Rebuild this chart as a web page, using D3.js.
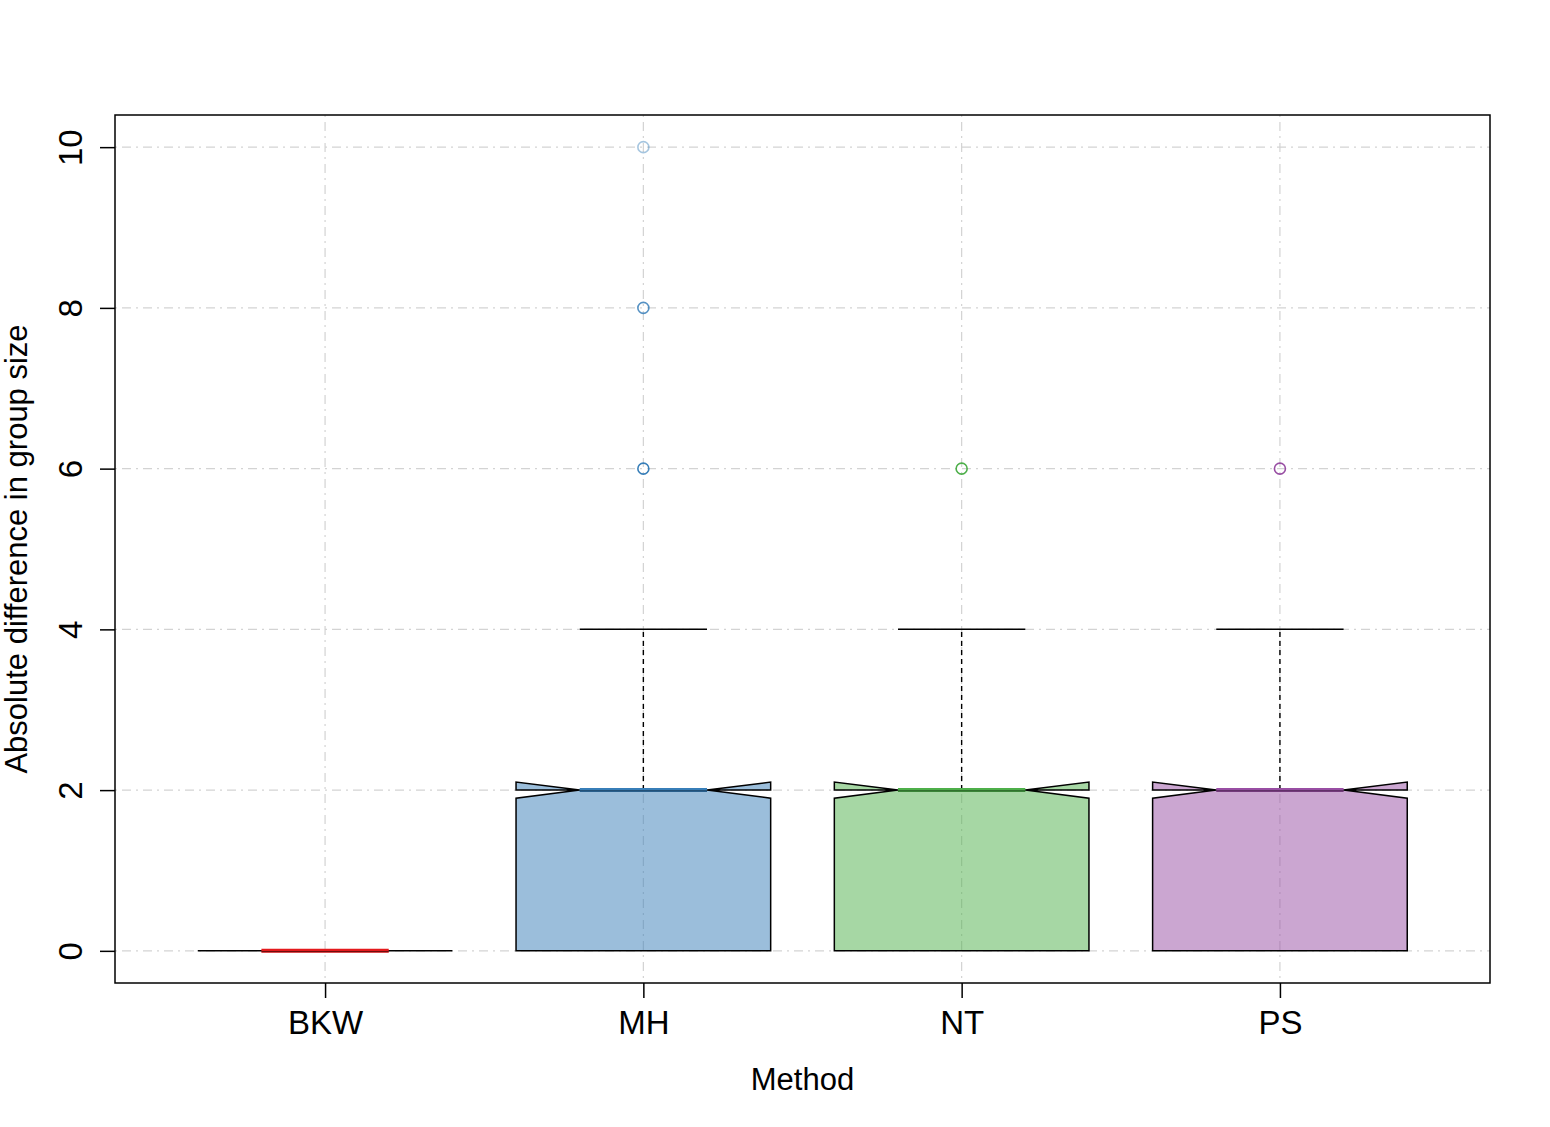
<!DOCTYPE html>
<html>
<head>
<meta charset="utf-8">
<script src="https://cdn.jsdelivr.net/npm/d3@7"></script>
<style>
  body { margin: 0; background: #fff; }
  svg text { font-family: "Liberation Sans", Arial, sans-serif; fill: #000; }
</style>
</head>
<body>
<svg id="chart" width="1550" height="1127"></svg>
<script>
// boxplot stats per method
const methods = ['BKW', 'MH', 'NT', 'PS'];
const lowerWhisker = [0, 0, 0, 0];
const q1 = [0, 0, 0, 0];
const median = [0, 2, 2, 2];
const q3 = [0, 2, 2, 2];
const upperWhisker = [0, 4, 4, 4];
const notchLo = [0, 1.9, 1.9, 1.9];
const notchHi = [0, 2.1, 2.1, 2.1];
const colors = ['#e41a1c', '#377eb8', '#4daf4a', '#984ea3'];

// outliers: method, value, opacity (overlapping points look darker)
const outlierMethod = ['MH', 'MH', 'MH', 'NT', 'PS'];
const outlierValue = [10, 8, 6, 6, 6];
const outlierOpacity = [0.45, 0.85, 1, 1, 1];

const yTicks = [0, 2, 4, 6, 8, 10];

const margin = { left: 115, right: 60, top: 115, bottom: 144 };
const W = 1550, H = 1127;

const svg = d3.select('#chart');

const x = d3.scaleLinear()
  .domain([0.34, 4.66])
  .range([margin.left, W - margin.right]);
const y = d3.scaleLinear()
  .domain([-0.4, 10.4])
  .range([H - margin.bottom, margin.top]);

const pos = m => x(methods.indexOf(m) + 1);
const halfBox = x(1.4) - x(1);
const halfNotch = x(1.2) - x(1);
const halfCap = x(1.2) - x(1);

const boxes = methods.map((m, i) => ({
  m, i, lw: lowerWhisker[i], q1: q1[i], med: median[i], q3: q3[i],
  uw: upperWhisker[i], nlo: notchLo[i], nhi: notchHi[i]
}));

// grid first, boxes are semi-transparent on top of it
const grid = svg.append('g')
  .attr('stroke', '#d3d3d3')
  .attr('stroke-width', 1.2)
  .attr('stroke-dasharray', '2,5,9,5');
yTicks.forEach(t => {
  grid.append('line')
    .attr('x1', margin.left).attr('x2', W - margin.right)
    .attr('y1', y(t)).attr('y2', y(t));
});
methods.forEach(m => {
  grid.append('line')
    .attr('x1', pos(m)).attr('x2', pos(m))
    .attr('y1', margin.top).attr('y2', H - margin.bottom);
});

// boxes (notched polygons)
const bx = svg.append('g');
boxes.forEach(b => {
  const cx = pos(b.m);
  if (b.q3 > b.q1) {
    const pts = [
      [cx - halfBox, y(b.q1)], [cx - halfBox, y(b.nlo)], [cx - halfNotch, y(b.med)],
      [cx - halfBox, y(b.nhi)], [cx - halfBox, y(b.q3)], [cx + halfBox, y(b.q3)],
      [cx + halfBox, y(b.nhi)], [cx + halfNotch, y(b.med)], [cx + halfBox, y(b.nlo)],
      [cx + halfBox, y(b.q1)]
    ];
    bx.append('polygon')
      .attr('points', pts.map(p => p.join(',')).join(' '))
      .attr('fill', colors[b.i])
      .attr('fill-opacity', 0.5)
      .attr('stroke', '#000')
      .attr('stroke-width', 1.5)
      .attr('stroke-linejoin', 'miter');
  } else {
    bx.append('line')
      .attr('x1', cx - halfBox).attr('x2', cx + halfBox)
      .attr('y1', y(b.q1)).attr('y2', y(b.q1))
      .attr('stroke', '#000').attr('stroke-width', 1.5);
  }
});

// whiskers, caps, medians
const fg = svg.append('g');
boxes.forEach(b => {
  const cx = pos(b.m);
  if (b.uw > b.q3) {
    fg.append('line')
      .attr('x1', cx).attr('x2', cx)
      .attr('y1', y(b.q3)).attr('y2', y(b.uw))
      .attr('stroke', '#000').attr('stroke-width', 1.4)
      .attr('stroke-dasharray', '5,4');
    fg.append('line')
      .attr('x1', cx - halfCap).attr('x2', cx + halfCap)
      .attr('y1', y(b.uw)).attr('y2', y(b.uw))
      .attr('stroke', '#000').attr('stroke-width', 1.5);
  }
  fg.append('line')
    .attr('x1', cx - halfNotch).attr('x2', cx + halfNotch)
    .attr('y1', y(b.med)).attr('y2', y(b.med))
    .attr('stroke', colors[b.i]).attr('stroke-width', 4);
  fg.append('line')
    .attr('x1', cx - halfNotch).attr('x2', cx + halfNotch)
    .attr('y1', y(b.med) + 0.8).attr('y2', y(b.med) + 0.8)
    .attr('stroke', '#000').attr('stroke-opacity', 0.6).attr('stroke-width', 1);
});

// outliers
outlierValue.forEach((v, k) => {
  const i = methods.indexOf(outlierMethod[k]);
  svg.append('circle')
    .attr('cx', pos(outlierMethod[k]))
    .attr('cy', y(v))
    .attr('r', 5.5)
    .attr('fill', 'none')
    .attr('stroke', colors[i])
    .attr('stroke-width', 1.6)
    .attr('stroke-opacity', outlierOpacity[k]);
});

// plot frame
svg.append('rect')
  .attr('x', margin.left).attr('y', margin.top)
  .attr('width', W - margin.left - margin.right)
  .attr('height', H - margin.top - margin.bottom)
  .attr('fill', 'none').attr('stroke', '#000').attr('stroke-width', 1.5);

// y axis
const yAxis = svg.append('g')
  .attr('transform', `translate(${margin.left},0)`)
  .call(d3.axisLeft(y).tickValues(yTicks).tickSize(15).tickPadding(0).tickFormat(d3.format('d')));
yAxis.select('.domain').remove();
yAxis.selectAll('.tick line').attr('stroke-width', 1.5);
yAxis.selectAll('.tick text')
  .attr('x', 0).attr('dy', 0)
  .attr('transform', 'translate(-33,0) rotate(-90)')
  .attr('text-anchor', 'middle')
  .style('font-size', '33px');

// x axis
const xAxis = svg.append('g')
  .attr('transform', `translate(0,${H - margin.bottom})`)
  .call(d3.axisBottom(x).tickValues(methods.map((m, i) => i + 1)).tickSize(15).tickPadding(0)
    .tickFormat(d => methods[d - 1]));
xAxis.select('.domain').remove();
xAxis.selectAll('.tick line').attr('stroke-width', 1.5);
xAxis.selectAll('.tick text')
  .attr('y', 51).attr('dy', 0)
  .style('font-size', '33px');

// axis titles
svg.append('text')
  .attr('x', x(2.5)).attr('y', 1090)
  .attr('text-anchor', 'middle')
  .style('font-size', '31px')
  .text('Method');
svg.append('text')
  .attr('transform', `translate(27,${y(5)}) rotate(-90)`)
  .attr('text-anchor', 'middle')
  .style('font-size', '31px')
  .text('Absolute difference in group size');
</script>
</body>
</html>
